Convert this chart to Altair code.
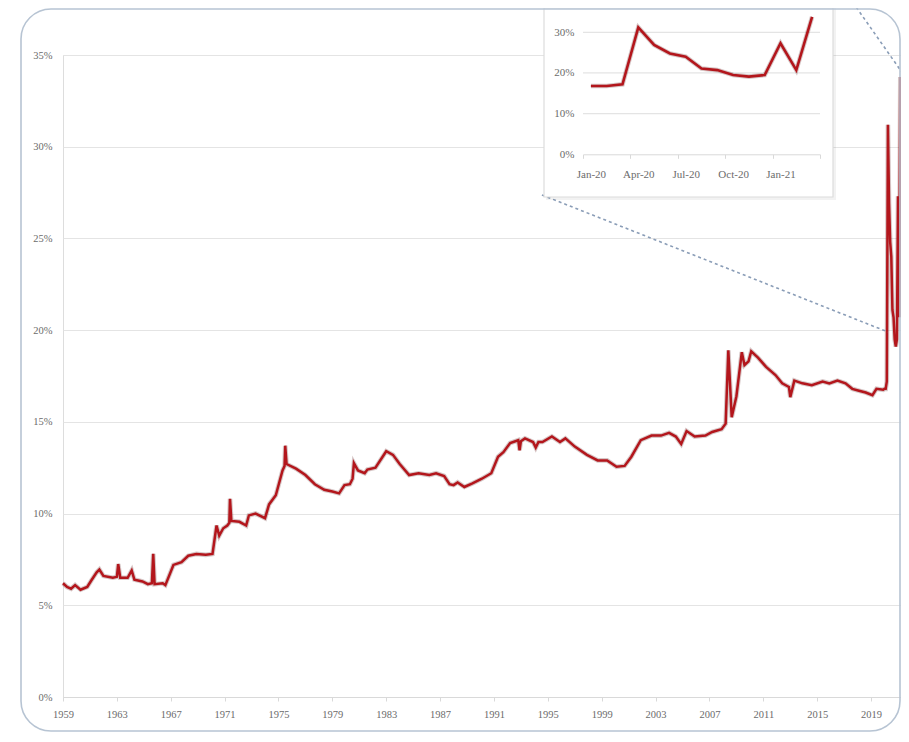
import json
import altair as alt
import pandas as pd

# ---------------- data ----------------
MAIN_YEARS = [
    1959.0, 1959.3, 1959.6, 1959.9, 1960.3, 1960.8, 1961.1, 1961.5, 1961.7, 1962.0,
    1962.7, 1963.0, 1963.1, 1963.25, 1963.8, 1964.1, 1964.3, 1964.9, 1965.3, 1965.6,
    1965.7, 1965.8, 1966.4, 1966.6, 1967.2, 1967.8, 1968.3, 1968.9, 1969.6, 1970.1,
    1970.4, 1970.6, 1970.9, 1971.2, 1971.35, 1971.4, 1971.5, 1972.1, 1972.6, 1972.8,
    1973.3, 1974.0, 1974.3, 1974.8, 1975.3, 1975.45, 1975.5, 1975.6, 1976.3, 1977.0,
    1977.7, 1978.4, 1979.0, 1979.5, 1979.9, 1980.3, 1980.5, 1980.6, 1980.9, 1981.4,
    1981.6, 1982.2, 1983.0, 1983.5, 1984.0, 1984.7, 1985.4, 1986.2, 1986.7, 1987.3,
    1987.7, 1988.0, 1988.3, 1988.8, 1989.4, 1990.1, 1990.8, 1991.3, 1991.7, 1992.2,
    1992.8, 1992.9, 1993.0, 1993.3, 1993.9, 1994.1, 1994.3, 1994.6, 1995.3, 1995.9,
    1996.3, 1997.0, 1997.9, 1998.7, 1999.4, 2000.1, 2000.7, 2001.2, 2001.9, 2002.7,
    2003.4, 2004.0, 2004.5, 2004.9, 2005.3, 2005.9, 2006.7, 2007.2, 2007.9, 2008.2,
    2008.4, 2008.65, 2009.0, 2009.4, 2009.6, 2009.9, 2010.1, 2010.6, 2011.2, 2011.9,
    2012.4, 2012.9, 2013.0, 2013.3, 2013.9, 2014.6, 2015.4, 2015.9, 2016.5, 2017.1,
    2017.6, 2018.1, 2018.6, 2019.1, 2019.4, 2019.9,
]
MAIN_VALUES = [
    6.2, 6.0, 5.9, 6.1, 5.85, 6.0, 6.35, 6.8, 6.95, 6.6,
    6.5, 6.55, 7.25, 6.5, 6.5, 6.9, 6.4, 6.3, 6.15, 6.2,
    7.8, 6.15, 6.2, 6.1, 7.2, 7.35, 7.7, 7.8, 7.75, 7.8,
    9.35, 8.8, 9.2, 9.35, 9.5, 10.8, 9.6, 9.55, 9.35, 9.9,
    10.0, 9.75, 10.5, 11.0, 12.35, 12.6, 13.7, 12.7, 12.45, 12.1,
    11.6, 11.3, 11.2, 11.1, 11.55, 11.6, 11.9, 12.75, 12.35, 12.2,
    12.4, 12.5, 13.4, 13.2, 12.7, 12.1, 12.2, 12.1, 12.2, 12.05,
    11.6, 11.55, 11.7, 11.45, 11.65, 11.9, 12.2, 13.1, 13.35, 13.85,
    14.0, 13.45, 13.95, 14.1, 13.9, 13.6, 13.9, 13.9, 14.2, 13.9,
    14.1, 13.65, 13.2, 12.9, 12.9, 12.55, 12.6, 13.1, 14.0, 14.25,
    14.25, 14.4, 14.2, 13.8, 14.5, 14.2, 14.25, 14.45, 14.6, 14.9,
    18.9, 15.25, 16.4, 18.8, 18.1, 18.3, 18.85, 18.5, 18.0, 17.55,
    17.1, 16.9, 16.35, 17.25, 17.1, 17.0, 17.2, 17.1, 17.25, 17.1,
    16.8, 16.7, 16.6, 16.45, 16.8, 16.75,
]

# monthly values Jan-20 .. Mar-21 (inset, also the tail of the main line)
INSET_MONTHS = list(range(15))
INSET_VALUES = [16.8, 16.8, 17.2, 31.2, 26.9, 24.8, 24.0, 21.1, 20.7, 19.5,
                19.1, 19.5, 27.3, 20.7, 33.8]

MAIN_X_TICKS = list(range(1959, 2020, 4))
MAIN_Y_TICKS = [0, 5, 10, 15, 20, 25, 30, 35]
INSET_Y_TICKS = [0, 10, 20, 30]
INSET_X_TICKS = [-0.5, 2.5, 5.5, 8.5, 11.5, 14.5]
INSET_X_LABELS = ["Jan-20", "Apr-20", "Jul-20", "Oct-20", "Jan-21", ""]

# zoom connector lines (in main-chart units: year, percent)
LINK_SEG = ["a", "a", "b", "b"]
LINK_X = [1994.56, 2020.25, 2017.9, 2021.25]
LINK_Y = [27.37, 19.9, 37.6, 34.1]

# ---------------- layout ----------------
W, H = 838, 642
PAD = {"left": 55, "top": 47, "right": 0, "bottom": 35}
RED = "#B3161C"
FONT = "Liberation Serif"
LABEL_COLOR = "#6b6b6b"
GRID = "#e4e4e4"

main_years = MAIN_YEARS + [2020 + m / 12 for m in INSET_MONTHS]
main_vals = MAIN_VALUES + INSET_VALUES
main_df = pd.DataFrame({"yr": main_years, "v": main_vals})
inset_df = pd.DataFrame({"m": INSET_MONTHS, "v": INSET_VALUES})
link_df = pd.DataFrame({"seg": LINK_SEG, "yr": LINK_X, "v": LINK_Y})
one = pd.DataFrame({"a": [0]})

x_main_scale = alt.Scale(domain=[1959, 2021.22], nice=False, zero=False)
y_main_scale = alt.Scale(domain=[0, 35], nice=False)

main_x_axis = alt.Axis(
    values=MAIN_X_TICKS, format="d", title=None, grid=False, labelFlush=False,
    labelFont=FONT, labelFontSize=10.5, labelColor=LABEL_COLOR,
    domainColor="#d9d9d9", tickColor="#d9d9d9", tickSize=4, labelPadding=8,
)
main_y_axis = alt.Axis(
    values=MAIN_Y_TICKS, title=None, grid=True, gridColor=GRID, gridWidth=1.2,
    domain=False, ticks=False, labelPadding=11, labelFlush=False,
    labelFont=FONT, labelFontSize=10.5, labelColor=LABEL_COLOR,
    labelExpr="datum.value + '%'",
)

def main_enc(ch):
    return ch.encode(
        x=alt.X("yr:Q", scale=x_main_scale, axis=main_x_axis),
        y=alt.Y("v:Q", scale=y_main_scale, axis=main_y_axis),
    )

shadow = main_enc(alt.Chart(main_df).mark_line(color="#4a0000", opacity=0.22, strokeWidth=4.6))
main_line = main_enc(alt.Chart(main_df).mark_line(color=RED, strokeWidth=2.5))
links = main_enc(
    alt.Chart(link_df).mark_line(color="#8a9db7", strokeWidth=1.6, strokeDash=[3, 3])
).encode(detail="seg:N")
main = alt.layer(shadow, main_line, links)

# inset box (pixel positions relative to the plot area)
BX0, BX1, BY0, BY1 = 481, 770, -47, 142
box_shadow = alt.Chart(one).mark_rect(color="#000000", opacity=0.05).encode(
    x=alt.value(BX0 + 2), x2=alt.value(BX1 + 3), y=alt.value(BY0), y2=alt.value(BY1 + 3)
)
box = alt.Chart(one).mark_rect(fill="white", stroke="#dcdcdc", strokeWidth=1.2).encode(
    x=alt.value(BX0), x2=alt.value(BX1), y=alt.value(BY0), y2=alt.value(BY1)
)

IX0, IX1 = 520, 757
IY0, IY30 = 99.3, -22.7
x_in_scale = alt.Scale(domain=[-0.5, 14.5], range=[IX0, IX1], nice=False, zero=False)
y_in_scale = alt.Scale(domain=[0, 30], range=[IY0, IY30], nice=False)

label_js = json.dumps(INSET_X_LABELS)
in_x_axis = alt.Axis(
    values=INSET_X_TICKS, title=None, grid=False, orient="bottom",
    offset=-(H - IY0), zindex=1, labelFlush=False,
    labelFont=FONT, labelFontSize=11, labelColor=LABEL_COLOR,
    domainColor="#d9d9d9", tickColor="#d9d9d9", tickSize=4, labelPadding=10,
    labelOffset=7.9, labelExpr=label_js + "[round((datum.value + 0.5) / 3)]",
)
in_y_axis = alt.Axis(
    values=INSET_Y_TICKS, title=None, grid=False, orient="left",
    offset=-IX0, zindex=1, domain=False, ticks=False, labelPadding=9,
    labelFlush=False,
    labelFont=FONT, labelFontSize=11, labelColor=LABEL_COLOR,
    labelExpr="datum.value + '%'",
)
in_grid_df = pd.DataFrame({"v": INSET_Y_TICKS[1:]})
in_grid = alt.Chart(in_grid_df).mark_rule(color=GRID, strokeWidth=1.2).encode(
    y=alt.Y("v:Q", scale=y_in_scale, axis=in_y_axis),
    x=alt.value(IX0), x2=alt.value(IX1),
)
in_shadow = alt.Chart(inset_df).mark_line(color="#4a0000", opacity=0.22, strokeWidth=4.6).encode(
    x=alt.X("m:Q", scale=x_in_scale, axis=in_x_axis),
    y=alt.Y("v:Q", scale=y_in_scale, axis=in_y_axis),
)
in_line = alt.Chart(inset_df).mark_line(color=RED, strokeWidth=2.6).encode(
    x=alt.X("m:Q", scale=x_in_scale, axis=in_x_axis),
    y=alt.Y("v:Q", scale=y_in_scale, axis=in_y_axis),
)
inset = alt.layer(in_grid, in_shadow, in_line)

card = alt.Chart(one).mark_rect(
    fillOpacity=0, stroke="#b7c4d3", strokeWidth=1.6, cornerRadius=30
).encode(
    x=alt.value(-42), x2=alt.value(W - 1), y=alt.value(-46), y2=alt.value(H + 34)
)

chart = alt.layer(main, box_shadow, box, inset, card).resolve_scale(
    x="independent", y="independent"
).properties(
    width=W, height=H, padding=PAD,
    autosize=alt.AutoSizeParams(type="none"),
).configure_view(stroke=None).configure(background="white")

chart.save("out.html", embed_options={"renderer": "svg", "actions": False})
